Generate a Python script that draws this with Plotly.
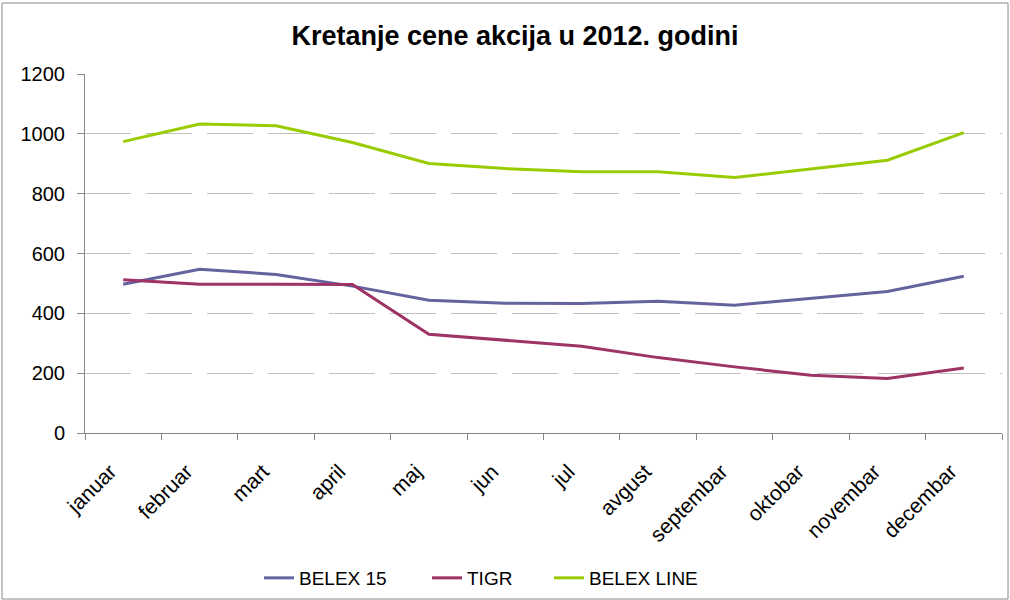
import plotly.graph_objects as go

months = ["januar", "februar", "mart", "april", "maj", "jun", "jul", "avgust",
          "septembar", "oktobar", "novembar", "decembar"]
belex15 = [497, 547, 530, 491, 444, 434, 433, 440, 427, 451, 473, 524]
tigr = [512, 497, 497, 496, 330, 310, 290, 252, 221, 193, 182, 217]
belexline = [974, 1033, 1027, 971, 901, 884, 873, 873, 854, 882, 912, 1004]
yticks = [0, 200, 400, 600, 800, 1000, 1200]

series = [("BELEX 15", belex15, "#65639E", "legend", 259),
          ("TIGR", tigr, "#9E3366", "legend2", 427),
          ("BELEX LINE", belexline, "#99CC00", "legend3", 549)]

fig = go.Figure()
for name, vals, col, leg, _ in series:
    fig.add_trace(go.Scatter(x=months, y=vals, mode="lines", name=name, legend=leg,
                             line=dict(color=col, width=3)))

legends = {}
for name, vals, col, leg, px in series:
    legends[leg] = dict(orientation="h", x=(px - 85) / 917, xanchor="left",
                        y=(433 - 578) / 359, yanchor="middle", font=dict(size=19),
                        bgcolor="rgba(0,0,0,0)")

fig.update_layout(
    width=1010, height=600,
    margin=dict(l=85, r=8, t=74, b=167, autoexpand=False),
    paper_bgcolor="white", plot_bgcolor="white",
    font=dict(family="Liberation Sans, Arial, sans-serif", size=19, color="black"),
    title=dict(text="<b>Kretanje cene akcija u 2012. godini</b>", x=515 / 1010,
               xanchor="center", xref="container", y=0.94, yanchor="middle",
               yref="container", font=dict(size=27, color="black")),
    showlegend=True,
    **legends,
    xaxis=dict(showline=True, linecolor="#888888", linewidth=1, ticks="outside",
               tickson="boundaries", ticklen=6, tickcolor="#888888", tickangle=-45,
               tickfont=dict(size=21), ticklabelstandoff=17, ticklabelshift=-13,
               showgrid=False, range=[-0.5, 11.5], mirror=False, automargin=False),
    yaxis=dict(range=[0, 1200], tickvals=yticks, showline=True, linecolor="#888888",
               linewidth=1, ticks="outside", ticklen=7, tickcolor="#888888",
               tickfont=dict(size=20), ticklabelstandoff=8, automargin=False,
               showgrid=True, gridcolor="#c0c0c0", gridwidth=1, griddash="46px,15px",
               zeroline=False),
    shapes=[dict(type="rect", xref="paper", yref="paper",
                 x0=(2 - 85) / 917, x1=(1008 - 85) / 917,
                 y0=(433 - 599) / 359, y1=(433 - 3) / 359,
                 line=dict(color="#888888", width=1), layer="below")],
)
fig.write_html("out.html", config={"displayModeBar": False},
               post_script="document.body.style.margin='0';")
